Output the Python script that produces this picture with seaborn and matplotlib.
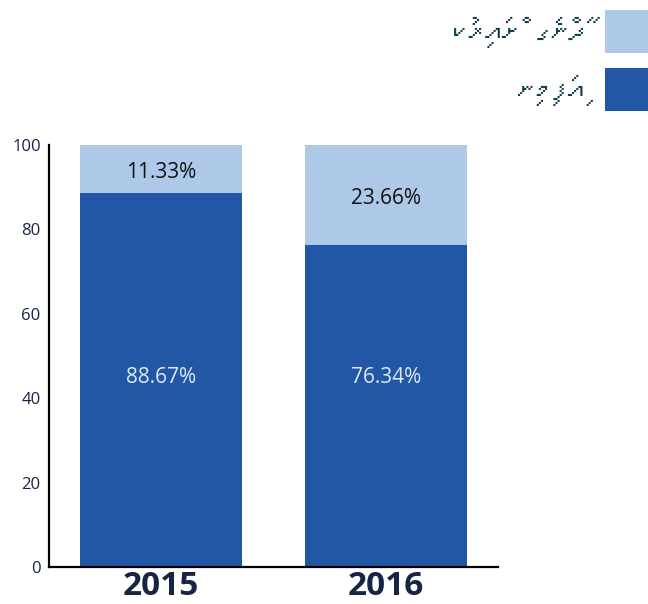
import matplotlib
matplotlib.use("Agg")
import matplotlib.pyplot as plt
from matplotlib import font_manager
from matplotlib.patches import Rectangle
import pandas as pd
import seaborn as sns

years = ["2015", "2016"]
completed = [88.67, 76.34]
ongoing = [11.33, 23.66]
label_completed = "ނިމިފައި"
label_ongoing = "ކުރިއަށް ގެންދާ"
yticks = [0, 20, 40, 60, 80, 100]

light = "#aec8e8"
dark = "#2257a6"
navy = "#172545"


def thaana_family():
    # look for any installed font that has Thaana glyphs
    try:
        from fontTools.ttLib import TTFont
    except ImportError:
        return None
    for entry in font_manager.fontManager.ttflist:
        try:
            cmap = TTFont(entry.fname, fontNumber=0, lazy=True).getBestCmap() or {}
        except Exception:
            continue
        if 0x0786 in cmap and 0x07A6 in cmap:
            return entry.name
    return None


sns.set_style("white")
plt.rcParams["font.family"] = ["Open Sans", "DejaVu Sans"]

thaana = thaana_family()
legend_family = [thaana, "DejaVu Sans"] if thaana else ["DejaVu Sans"]

df = pd.DataFrame({
    "year": years,
    "completed": completed,
    "total": [c + o for c, o in zip(completed, ongoing)],
})

W, H = 648, 604
fig = plt.figure(figsize=(W / 100, H / 100), dpi=100)
ax = fig.add_axes([49 / W, 37 / H, 449 / W, 422 / H])

# stacked bars: full height in light blue, completed share on top in dark blue
sns.barplot(data=df, x="year", y="total", color=light, width=0.72,
            saturation=1, errorbar=None, linewidth=0, edgecolor="none", ax=ax)
sns.barplot(data=df, x="year", y="completed", color=dark, width=0.72,
            saturation=1, errorbar=None, linewidth=0, edgecolor="none", ax=ax)

for i, (c, o) in enumerate(zip(completed, ongoing)):
    ax.text(i, c + o / 2 - 0.8, f"{o:.2f}%", ha="center", va="center",
            fontsize=15, color="#111111")
    ax.text(i, 45, f"{c:.2f}%", ha="center", va="center",
            fontsize=15, color="#dfe7f3")

ax.set_ylim(0, 100)
ax.set_xlim(-0.5, 1.5)
ax.set_yticks(yticks)
ax.set_xlabel("")
ax.set_ylabel("")
sns.despine(ax=ax, top=True, right=True)
for side in ["left", "bottom"]:
    ax.spines[side].set_color("black")
    ax.spines[side].set_linewidth(1.6)

ax.tick_params(axis="y", direction="in", length=7, width=1.6, color="black",
               pad=6, labelsize=12, labelcolor=navy)
ax.tick_params(axis="x", which="major", length=0, pad=2, labelsize=24,
               labelcolor=navy)
for lab in ax.get_xticklabels():
    lab.set_fontweight("bold")
ax.set_xticks([-0.5, 0.5, 1.5], minor=True)
ax.tick_params(axis="x", which="minor", direction="in", length=7, width=1.6,
               color="black")

# legend at top right: text then square
entries = [(label_ongoing, light), (label_completed, dark)]
for i, (lab, col) in enumerate(entries):
    top = 10 + i * 58
    fig.add_artist(Rectangle(((W - 43) / W, 1 - (top + 43) / H), 43 / W, 43 / H,
                             transform=fig.transFigure, color=col, lw=0))
    fig.text(585 / W, 1 - (top + 22) / H, lab, ha="right", va="center",
             fontsize=24, color="#123c4b", family=legend_family)

fig.savefig("out.png", dpi=100)
